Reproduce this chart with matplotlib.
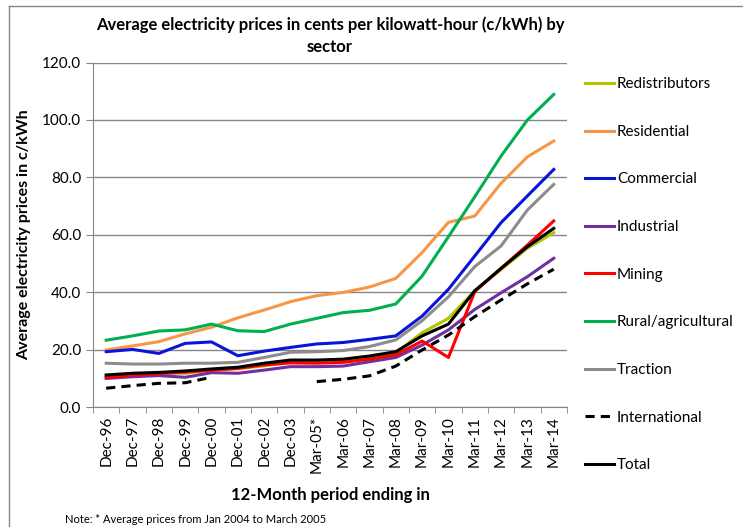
import matplotlib.pyplot as plt
import numpy as np
from matplotlib.lines import Line2D

plt.rcParams['font.family'] = ['Lato', 'DejaVu Sans']

periods = ["Dec-96", "Dec-97", "Dec-98", "Dec-99", "Dec-00", "Dec-01", "Dec-02", "Dec-03",
           "Mar-05*", "Mar-06", "Mar-07", "Mar-08", "Mar-09", "Mar-10", "Mar-11", "Mar-12",
           "Mar-13", "Mar-14"]

redistributors = [11.0, 11.5, 12.0, 11.9, 13.0, 13.5, 14.5, 15.8, 16.0, 16.3, 17.5, 19.0,
                  26.0, 31.0, 40.6, 48.0, 55.4, 60.8]
residential = [20.0, 21.4, 22.9, 25.6, 27.9, 31.2, 33.9, 36.8, 38.9, 40.0, 41.9, 44.9,
               53.9, 64.4, 66.6, 78.0, 87.2, 92.7]
commercial = [19.4, 20.2, 18.8, 22.3, 22.8, 18.0, 19.6, 20.9, 22.1, 22.6, 23.7, 24.9,
              31.8, 41.1, 52.7, 64.3, 73.6, 82.8]
industrial = [10.1, 10.7, 11.1, 10.5, 12.1, 11.9, 13.0, 14.2, 14.2, 14.4, 15.9, 17.4,
              21.7, 27.0, 34.1, 39.9, 45.5, 51.9]
mining = [10.4, 11.2, 11.8, 12.3, 13.0, 13.6, 14.8, 15.5, 15.4, 15.7, 16.8, 18.3,
          23.1, 17.4, 40.3, 48.4, 56.5, 64.9]
rural = [23.4, 24.9, 26.6, 27.0, 29.0, 26.7, 26.4, 29.0, 31.0, 33.0, 33.8, 36.0,
         45.7, 59.4, 73.3, 87.5, 100.0, 108.9]
traction = [15.4, 15.1, 15.1, 15.4, 15.4, 15.7, 17.4, 19.2, 19.4, 19.8, 21.2, 23.5,
            30.2, 38.5, 49.0, 56.2, 68.7, 77.6]
international = [6.7, 7.6, 8.4, 8.6, 10.5, np.nan, np.nan, np.nan, 9.0, 9.8, 11.0, 14.4,
                 20.0, 25.2, 31.6, 37.4, 43.0, 48.1]
total = [11.3, 11.9, 12.2, 12.7, 13.4, 14.0, 15.4, 16.5, 16.5, 16.8, 17.9, 19.4,
         24.9, 29.0, 40.6, 48.4, 55.9, 62.3]

series = [
    ("Redistributors", redistributors, "#B3C300", "-"),
    ("Residential", residential, "#F79646", "-"),
    ("Commercial", commercial, "#0A14D8", "-"),
    ("Industrial", industrial, "#7030A0", "-"),
    ("Mining", mining, "#FF0000", "-"),
    ("Rural/agricultural", rural, "#00B050", "-"),
    ("Traction", traction, "#8C8C8C", "-"),
    ("International", international, "black", "--"),
    ("Total", total, "black", "-"),
]

fig = plt.figure(figsize=(7.43, 5.27), dpi=100)
ax = fig.add_axes([0.1252, 0.2268, 0.6378, 0.6546])

x = np.arange(len(periods))
for name, vals, color, ls in series:
    ax.plot(x, vals, color=color, linestyle=ls, linewidth=2.2, label=name,
            dashes=(3, 2) if ls == "--" else (None, None))

# axes styling
ax.set_xlim(-0.5, len(periods) - 0.5)
ax.set_ylim(0, 120)
ax.set_yticks(np.arange(0, 121, 20))
ax.set_yticklabels(["%.1f" % v for v in np.arange(0, 121, 20)], fontsize=11)
ax.set_xticks(x)
ax.set_xticklabels(periods, rotation=90, fontsize=11)
ax.tick_params(axis='x', length=0, pad=6)
ax.set_xticks(np.arange(-0.5, len(periods)), minor=True)
ax.tick_params(axis='x', which='minor', length=4, color="#868686", direction='out')
ax.tick_params(axis='y', length=5, color="#868686", direction='out')
ax.grid(axis='y', color="#868686", linewidth=1)
ax.set_axisbelow(True)
for side in ["top", "right"]:
    ax.spines[side].set_visible(False)
for side in ["left", "bottom"]:
    ax.spines[side].set_color("#868686")

ax.set_ylabel("Average electricity prices in c/kWh", fontsize=11.5, fontweight='bold', labelpad=8)
ax.set_xlabel("12-Month period ending in", fontsize=12, fontweight='bold', labelpad=10)
fig.text(0.444, 0.968, "Average electricity prices in cents per kilowatt-hour (c/kWh) by\nsector",
         ha='center', va='top', fontsize=12, fontweight='bold', linespacing=1.4)

fig.legend(loc='upper left', bbox_to_anchor=(0.779, 0.865), frameon=False, fontsize=11,
           handlelength=1.9, handletextpad=0.2, labelspacing=2.2, borderaxespad=0)

fig.text(0.088, 0.008, "Note: * Average prices from Jan 2004 to March 2005", fontsize=8)

# chart area border (top and left edges visible in the reference)
fig.add_artist(Line2D([9 / 743, 9 / 743], [0, 1 - 6 / 527], transform=fig.transFigure,
                      color="#868686", linewidth=1))
fig.add_artist(Line2D([9 / 743, 1], [1 - 6 / 527, 1 - 6 / 527], transform=fig.transFigure,
                      color="#868686", linewidth=1))

fig.savefig("out.png", dpi=100)
